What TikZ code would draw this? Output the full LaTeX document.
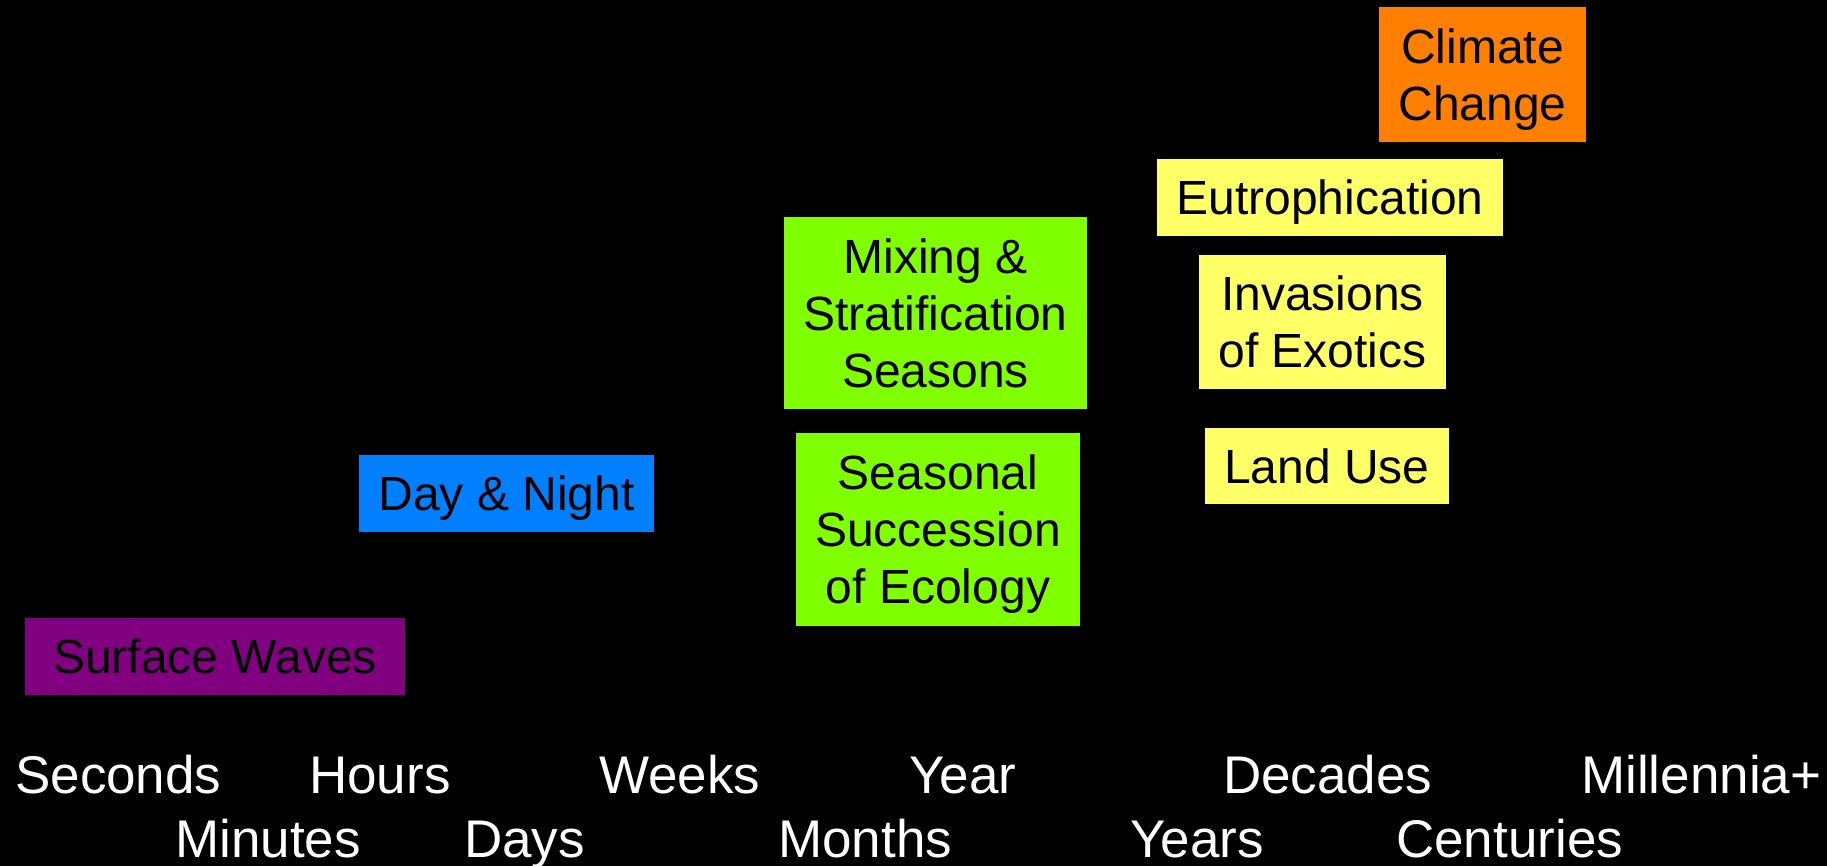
\documentclass[tikz,border=0pt]{standalone}
\usepackage{fontspec}
\setmainfont{Liberation Sans}
\definecolor{cOrange}{RGB}{255,128,0}
\definecolor{cPurple}{RGB}{128,0,128}
\definecolor{cBlue}{RGB}{0,128,255}
\definecolor{cGreen}{RGB}{128,255,0}
\definecolor{cYellow}{RGB}{255,255,102}
\tikzset{
  box/.style={rectangle, inner sep=0pt, align=center, text=black,
    font=\fontsize{48}{57}\selectfont, text depth=0pt},
  lab/.style={anchor=base west, inner sep=0pt, text=white,
    font=\fontsize{53}{60}\selectfont}
}
\begin{document}
\begin{tikzpicture}[x=1pt,y=-1pt]
\fill[black] (0,0) rectangle (1827,866);
\useasboundingbox (0,0) rectangle (1827,866);
% boxes
\node[box, fill=cOrange, minimum width=207pt, minimum height=135pt] (climate) at (1482.5,74.5) {Climate\\Change};
\node[box, fill=cYellow, minimum width=346pt, minimum height=77pt] (eutro) at (1330,197.5) {Eutrophication};
\node[box, fill=cYellow, minimum width=247pt, minimum height=134pt] (invasions) at (1322.5,322) {Invasions\\of Exotics};
\node[box, fill=cYellow, minimum width=244pt, minimum height=76pt] (landuse) at (1327,466) {Land Use};
\node[box, fill=cGreen, minimum width=303pt, minimum height=192pt] (mixing) at (935.5,313) {Mixing \&\\Stratification\\Seasons};
\node[box, fill=cGreen, minimum width=284pt, minimum height=193pt] (seasonal) at (938,529.5) {Seasonal\\Succession\\of Ecology};
\node[box, fill=cBlue, minimum width=295pt, minimum height=77pt] (daynight) at (506.5,493.5) {Day \& Night};
\node[box, fill=cPurple, minimum width=380pt, minimum height=77pt] (surface) at (215,656.5) {Surface Waves};
% time axis labels
\node[lab] (seconds) at (15,793) {Seconds};
\node[lab] (hours) at (309,793) {Hours};
\node[lab] (weeks) at (599,793) {Weeks};
\node[lab] (year) at (909,793) {Year};
\node[lab] (decades) at (1223,793) {Decades};
\node[lab] (millennia) at (1581,793) {Millennia+};
\node[lab] (minutes) at (175,857) {Minutes};
\node[lab] (days) at (464,857) {Days};
\node[lab] (months) at (778,857) {Months};
\node[lab] (years) at (1130,857) {Years};
\node[lab] (centuries) at (1396,857) {Centuries};
\end{tikzpicture}
\end{document}
